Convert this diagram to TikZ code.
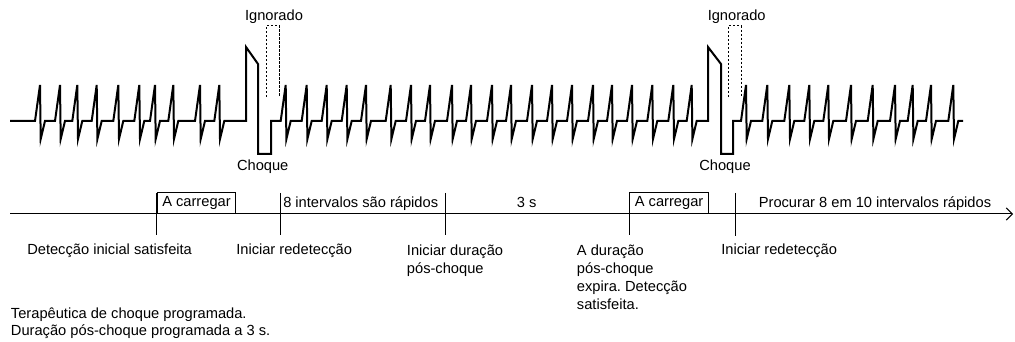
\documentclass[tikz,border=0pt]{standalone}
\usepackage{fontspec}
\setmainfont{Liberation Sans}
\usetikzlibrary{arrows.meta}
\frenchspacing

\begin{document}
\begin{tikzpicture}[
  x=0.75pt, y=-0.75pt,
  >={Straight Barb[length=1.6mm]},
  ecg/.style={line width=1.5pt},
  ign/.style={line width=0.75pt, dash pattern=on 1.6pt off 1.4pt},
  axis/.style={line width=0.75pt},
  tick/.style={line width=0.75pt},
  lbl/.style={font=\fontsize{11}{13.5}\selectfont, inner sep=0pt},
  note/.style={font=\fontsize{11}{12.5}\selectfont, inner sep=0pt, align=left, anchor=north west},
  load/.style={draw, line width=0.75pt, font=\fontsize{11}{13.5}\selectfont,
               minimum height=15.75pt, inner xsep=3.8pt, inner ysep=0pt, anchor=south west}
]
\useasboundingbox (0,0) rectangle (1015,342);

% rhythm strip with the two shocks
\draw[ecg] (10,121)
  foreach \p in {40,60,77.3,96.7,118.3,139.3,155,173.3,200,219.3}
    { -- (\p-5,121) -- (\p,85) -- (\p+0.7,139) -- (\p+5,121) }
  -- (246,121) -- (246,47) -- (258,64) -- (258,154) -- (271,154) -- (271,121)
  foreach \p in {285.7,306.7,326.7,346.7,366,390.7,411,430,452,471,492,511,532,552,572,593,612,632,652.3,673.3,691.7}
    { -- (\p-5,121) -- (\p,85) -- (\p+0.7,139) -- (\p+5,121) }
  -- (708,121) -- (708,47) -- (721,64) -- (721,154) -- (733,154) -- (733,121)
  foreach \p in {746,767.3,789.3,809.3,828.3,851,872.7,895,912.7,931,953.3}
    { -- (\p-5,121) -- (\p,85) -- (\p+0.7,139) -- (\p+5,121) }
  -- (963,121);

% ignored windows
\draw[ign] (266,97) |- (279.5,26) -- (279.5,97);
\draw[ign] (728.3,97) |- (741.7,26) -- (741.7,97);

\node[lbl, anchor=base] (ign1) at (274,20.5)   {Ignorado};
\node[lbl, anchor=base] (ign2) at (736.7,20.5) {Ignorado};
\node[lbl, anchor=base] (chq1) at (262.7,170.5) {Choque};
\node[lbl, anchor=base] (chq2) at (725,170.5)   {Choque};

% time line
\coordinate (start) at (10,214);
\coordinate (end)   at (1013,214);
\coordinate (t1) at (156.7,193);
\coordinate (t2) at (280,193);
\coordinate (t3) at (445,193);
\coordinate (t4) at (629.3,193);
\coordinate (t5) at (735,193);

\draw[axis, ->] (start) -- (end);
\draw[tick] (t1) -- ++(0,42);
\draw[tick] (t2) -- ++(0,42);
\draw[tick] (t3) -- ++(0,42);
\draw[tick] (t4) -- ++(0,42);
\draw[tick] (t5) -- ++(0,43);

\node[load] (load1) at (156.7,214) {A carregar};
\node[load] (load2) at (629.3,214) {A carregar};
\node[lbl, anchor=base west] (fast)   at (283,207.5)   {8 intervalos são rápidos};
\node[lbl, anchor=base]      (three)  at (526.7,207.5) {3 s};
\node[lbl, anchor=base]      (search) at (875,207.5)   {Procurar 8 em 10 intervalos rápidos};

\node[lbl, anchor=base west] (init)   at (27,255)  {Detecção inicial satisfeita};
\node[lbl, anchor=base west] (redet1) at (236,255) {Iniciar redetecção};
\node[lbl, align=left, anchor=north west] (post)   at (406.7,244.3) {Iniciar duração\\pós-choque};
\node[lbl, align=left, anchor=north west] (expire) at (576.7,244.3) {A duração\\pós-choque\\expira. Detecção\\satisfeita.};
\node[lbl, anchor=base west] (redet2) at (721,255) {Iniciar redetecção};

\node[note] (prog) at (10.7,307.8) {Terapêutica de choque programada.\\Duração pós-choque programada a 3 s.};
\end{tikzpicture}
\end{document}
